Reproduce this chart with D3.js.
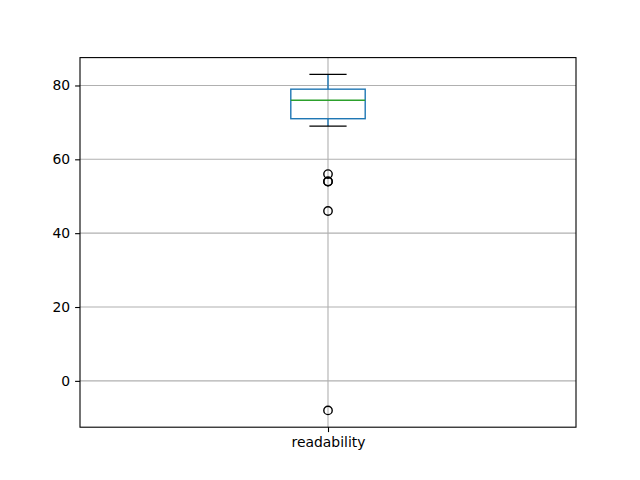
<!DOCTYPE html>
<html>
<head>
<meta charset="utf-8">
<script src="https://cdn.jsdelivr.net/npm/d3@7"></script>
<style>
  body { margin: 0; background: #fff; }
  text { font-family: "DejaVu Sans", sans-serif; }
</style>
</head>
<body>
<div id="chart"></div>
<script>
// data
const columns = ["readability"];
const stats = [{ whiskerLow: 69, q1: 71, median: 76, q3: 79, whiskerHigh: 83 }];
const fliers = [[56, 54, 54, 46, -8]];
const yTicks = [0, 20, 40, 60, 80];

// layout (matplotlib default figure)
const W = 640, H = 480,
  m = { left: 80, right: 64, top: 57.6, bottom: 52.8 },
  w = W - m.left - m.right,
  h = H - m.top - m.bottom;

const svg = d3.select("#chart").append("svg")
  .attr("width", W)
  .attr("height", H);

// y range with 5% margin like matplotlib
const allVals = stats.flatMap(s => [s.whiskerLow, s.whiskerHigh]).concat(fliers.flat());
const lo = d3.min(allVals), hi = d3.max(allVals), pad = (hi - lo) * 0.05;

const y = d3.scaleLinear().domain([lo - pad, hi + pad]).range([h, 0]);
const x = d3.scaleLinear().domain([0.5, columns.length + 0.5]).range([0, w]);

const g = svg.append("g").attr("transform", `translate(${m.left},${m.top})`);

// grid
g.append("g").selectAll("line")
  .data(yTicks).enter().append("line")
  .attr("x1", 0).attr("x2", w)
  .attr("y1", d => y(d)).attr("y2", d => y(d))
  .attr("stroke", "#b0b0b0").attr("stroke-width", 1.1);

g.append("g").selectAll("line")
  .data(columns).enter().append("line")
  .attr("x1", (d, i) => x(i + 1)).attr("x2", (d, i) => x(i + 1))
  .attr("y1", 0).attr("y2", h)
  .attr("stroke", "#b0b0b0").attr("stroke-width", 1.1);

// boxes
const boxW = 0.15, capW = boxW / 2;
stats.forEach((s, i) => {
  const pos = i + 1;
  const bx = g.append("g");
  // whiskers
  bx.append("line")
    .attr("x1", x(pos)).attr("x2", x(pos))
    .attr("y1", y(s.q3)).attr("y2", y(s.whiskerHigh))
    .attr("stroke", "#1f77b4").attr("stroke-width", 1.4);
  bx.append("line")
    .attr("x1", x(pos)).attr("x2", x(pos))
    .attr("y1", y(s.q1)).attr("y2", y(s.whiskerLow))
    .attr("stroke", "#1f77b4").attr("stroke-width", 1.4);
  // caps
  [s.whiskerHigh, s.whiskerLow].forEach(v => {
    bx.append("line")
      .attr("x1", x(pos - capW / 2)).attr("x2", x(pos + capW / 2))
      .attr("y1", y(v)).attr("y2", y(v))
      .attr("stroke", "#000").attr("stroke-width", 1.4);
  });
  // box
  bx.append("rect")
    .attr("x", x(pos - boxW / 2))
    .attr("y", y(s.q3))
    .attr("width", x(pos + boxW / 2) - x(pos - boxW / 2))
    .attr("height", y(s.q1) - y(s.q3))
    .attr("fill", "none")
    .attr("stroke", "#1f77b4").attr("stroke-width", 1.4);
  // median
  bx.append("line")
    .attr("x1", x(pos - boxW / 2)).attr("x2", x(pos + boxW / 2))
    .attr("y1", y(s.median)).attr("y2", y(s.median))
    .attr("stroke", "#2ca02c").attr("stroke-width", 1.4);
  // fliers
  bx.selectAll("circle")
    .data(fliers[i]).enter().append("circle")
    .attr("cx", x(pos)).attr("cy", d => y(d))
    .attr("r", 4.2)
    .attr("fill", "none")
    .attr("stroke", "#000").attr("stroke-width", 1.4);
});

// axes
const yAxis = g.append("g")
  .call(d3.axisLeft(y).tickValues(yTicks).tickSize(4.9).tickPadding(4.9).tickFormat(d3.format("d")));
const xAxis = g.append("g")
  .attr("transform", `translate(0,${h})`)
  .call(d3.axisBottom(x).tickValues(columns.map((d, i) => i + 1)).tickSize(4.9).tickPadding(4.9)
    .tickFormat((d, i) => columns[i]));

[yAxis, xAxis].forEach(a => {
  a.select(".domain").remove();
  a.selectAll(".tick line").attr("stroke", "#000").attr("stroke-width", 1.1);
  a.selectAll(".tick text").attr("font-size", "13.9px").attr("fill", "#000")
    .attr("font-family", "DejaVu Sans, sans-serif");
});

// frame
g.append("rect")
  .attr("width", w).attr("height", h)
  .attr("fill", "none")
  .attr("stroke", "#000").attr("stroke-width", 1.1);
</script>
</body>
</html>
